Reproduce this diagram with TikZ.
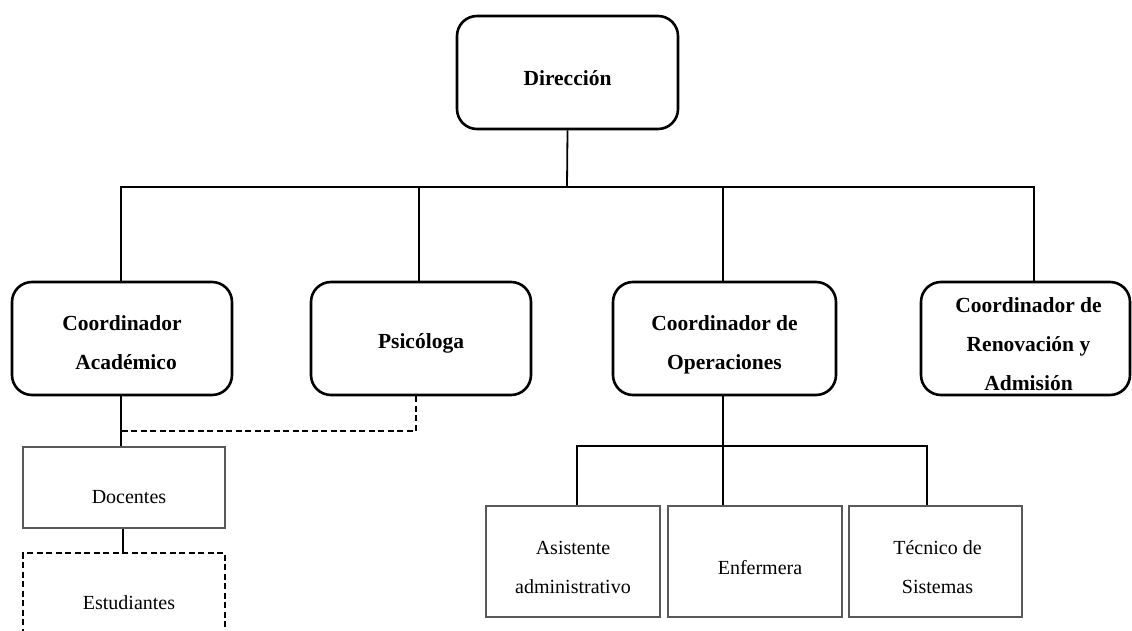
\documentclass[tikz,border=0pt]{standalone}
\usepackage{fontspec}
\setmainfont{Liberation Serif}
\begin{document}
\begin{tikzpicture}[x=1pt,y=-1pt,
  rbox/.style={draw=black, line width=2.6pt, rounded corners=20pt,
    inner sep=0pt, minimum height=113pt},
  sbox/.style={draw=black!65, line width=1.2pt, inner sep=0pt},
  dbox/.style={sbox, draw=black, line width=1.6pt, dash pattern=on 6pt off 3.5pt},
  btext/.style={align=center, inner sep=0pt,
    font=\fontsize{21.5}{39}\selectfont\bfseries},
  ntext/.style={align=center, inner sep=0pt,
    font=\fontsize{20}{39}\selectfont},
  conn/.style={draw=black, line width=1.8pt},
  dconn/.style={draw=black, line width=1.6pt, dash pattern=on 6pt off 3.5pt}]
\useasboundingbox (0,0) rectangle (1132,631);
\clip (0,0) rectangle (1132,631);
\fill[white] (0,0) rectangle (1132,631);

% level 0
\node[rbox, minimum width=221pt] (dir) at (567.5,72.5) {};
\node[btext] (dirT) at ([yshift=-6pt]dir.center) {Dirección};
% level 1
\node[rbox, minimum width=220pt] (acad) at (122,338.5) {};
\node[btext] (acadT) at ([yshift=-4pt]acad.center) {Coordinador\\\hspace*{8pt}Académico};
\node[rbox, minimum width=220pt] (psic) at (421,338.5) {};
\node[btext] (psicT) at ([yshift=-5pt]psic.center) {Psicóloga};
\node[rbox, minimum width=223pt] (op) at (724.5,338.5) {};
\node[btext] (opT) at ([yshift=-6pt]op.center) {Coordinador de\\Operaciones};
\node[rbox, minimum width=209pt] (ren) at (1025.5,338.5) {};
\node[btext] (renT) at ([yshift=-6pt,xshift=3pt]ren.center) {Coordinador de\\Renovación y\\Admisión};
% level 2
\node[sbox, minimum width=202pt, minimum height=81pt] (doc) at (124,487.5) {};
\node[ntext] (docT) at ([yshift=-10pt,xshift=5pt]doc.center) {Docentes};
\node[dbox, minimum width=202pt, minimum height=100pt] (est) at (124,603) {};
\node[ntext] (estT) at ([xshift=5pt]est.center) {Estudiantes};
\node[sbox, minimum width=174pt, minimum height=111pt] (asis) at (573,561.5) {};
\node[ntext] (asisT) at ([yshift=-6pt]asis.center) {Asistente\\administrativo};
\node[sbox, minimum width=174pt, minimum height=111pt] (enf) at (755,561.5) {};
\node[ntext] (enfT) at ([yshift=-6pt,xshift=5pt]enf.center) {Enfermera};
\node[sbox, minimum width=173pt, minimum height=111pt] (tec) at (935.5,561.5) {};
\node[ntext] (tecT) at ([yshift=-6pt,xshift=2pt]tec.center) {Técnico de\\Sistemas};

% bus from Dirección
\coordinate (b1) at (567,187);
\draw[conn] (dir.south) -- (b1);
\draw[conn] ([xshift=-1pt]acad.north) |- (b1) -| ([xshift=8.5pt]ren.north);
\draw[conn] ([xshift=-2pt]psic.north) -- ([xshift=-2pt]psic.north |- b1);
\draw[conn] ([xshift=-1.5pt]op.north) -- ([xshift=-1.5pt]op.north |- b1);

% Académico branch
\coordinate (dj) at (121,431);
\draw[conn] ([xshift=-1pt]acad.south) -- ([xshift=-3pt]doc.north);
\draw[dconn] ([xshift=-5pt]psic.south) |- (dj);
\draw[conn] ([xshift=-1pt]doc.south) -- ([xshift=-1pt]est.north);

% Operaciones branch
\coordinate (b2) at (723,446);
\draw[conn] ([xshift=-1.5pt]op.south) -- (b2);
\draw[conn] ([xshift=4pt]asis.north) |- (b2) -| ([xshift=-8.5pt]tec.north);
\draw[conn] (b2) -- (b2 |- enf.north);
\end{tikzpicture}
\end{document}
